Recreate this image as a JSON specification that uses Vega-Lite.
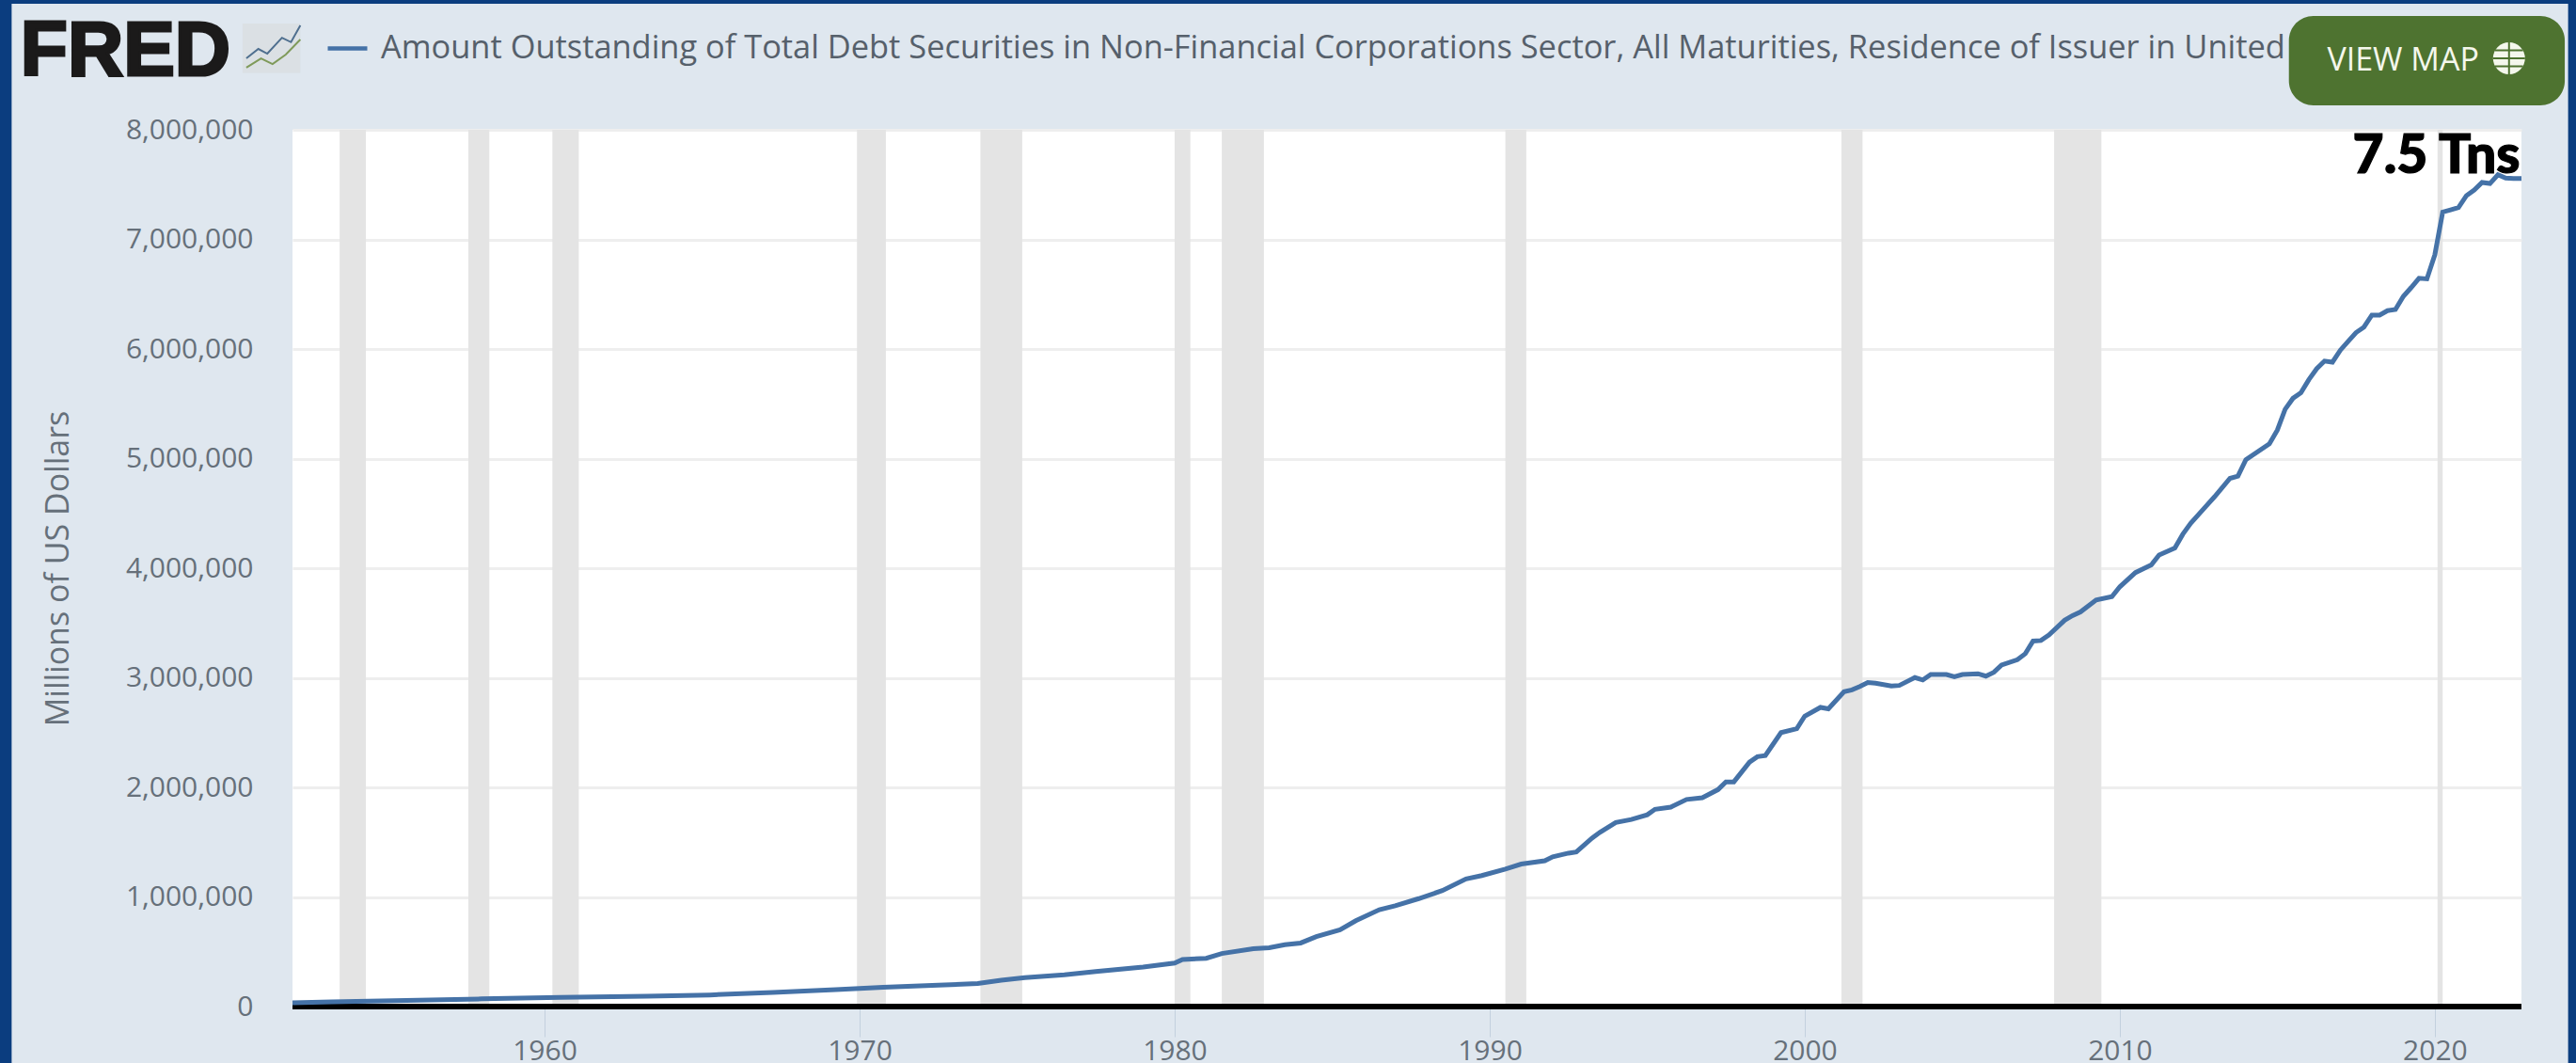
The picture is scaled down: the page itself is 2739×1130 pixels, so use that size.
{
"$schema":"https://vega.github.io/schema/vega-lite/v6.json",
"width":2370,"height":932,
"autosize":{"type":"none"},
"padding":{"left":311,"top":138,"right":58,"bottom":60},
"background":"#dfe7ef",
"config":{"view":{"fill":"#ffffff","stroke":null},"font":"Open Sans"},
"datasets":{
"debt":[
{"date":"1952-01-01","v":35000},{"date":"1953-04-01","v":43000},{"date":"1956-01-01","v":57000},{"date":"1958-01-01","v":70000},{"date":"1960-07-01","v":84000},{"date":"1963-04-01","v":94000},{"date":"1965-04-01","v":106000},{"date":"1967-04-01","v":129000},{"date":"1969-04-01","v":155000},{"date":"1970-10-01","v":177000},{"date":"1972-07-01","v":195000},{"date":"1973-10-01","v":210000},{"date":"1974-07-01","v":240000},{"date":"1975-04-01","v":263000},{"date":"1976-07-01","v":290000},{"date":"1977-07-01","v":320000},{"date":"1979-01-01","v":360000},{"date":"1980-01-01","v":397000},{"date":"1980-04-01","v":430000},{"date":"1981-01-01","v":440000},{"date":"1981-07-01","v":484000},{"date":"1982-07-01","v":528000},{"date":"1983-01-01","v":536000},{"date":"1983-07-01","v":565000},{"date":"1984-01-01","v":580000},{"date":"1984-07-01","v":638000},{"date":"1985-04-01","v":700000},{"date":"1985-10-01","v":783000},{"date":"1986-07-01","v":884000},{"date":"1987-01-01","v":920000},{"date":"1987-10-01","v":985000},{"date":"1988-07-01","v":1058000},{"date":"1989-04-01","v":1165000},{"date":"1989-10-01","v":1195000},{"date":"1990-07-01","v":1255000},{"date":"1991-01-01","v":1300000},{"date":"1991-10-01","v":1330000},{"date":"1992-01-01","v":1366000},{"date":"1992-07-01","v":1400000},{"date":"1992-10-01","v":1410000},{"date":"1993-04-01","v":1537000},{"date":"1993-07-01","v":1590000},{"date":"1994-01-01","v":1680000},{"date":"1994-07-01","v":1707000},{"date":"1995-01-01","v":1750000},{"date":"1995-04-01","v":1800000},{"date":"1995-10-01","v":1820000},{"date":"1996-04-01","v":1890000},{"date":"1996-10-01","v":1906000},{"date":"1997-04-01","v":1980000},{"date":"1997-07-01","v":2050000},{"date":"1997-10-01","v":2050000},{"date":"1998-04-01","v":2230000},{"date":"1998-07-01","v":2280000},{"date":"1998-10-01","v":2290000},{"date":"1999-04-01","v":2500000},{"date":"1999-10-01","v":2535000},{"date":"2000-01-01","v":2650000},{"date":"2000-07-01","v":2730000},{"date":"2000-10-01","v":2717000},{"date":"2001-04-01","v":2873000},{"date":"2001-07-01","v":2890000},{"date":"2001-10-01","v":2920000},{"date":"2002-01-01","v":2957000},{"date":"2002-04-01","v":2950000},{"date":"2002-10-01","v":2925000},{"date":"2003-01-01","v":2930000},{"date":"2003-07-01","v":3002000},{"date":"2003-10-01","v":2980000},{"date":"2004-01-01","v":3030000},{"date":"2004-07-01","v":3030000},{"date":"2004-10-01","v":3010000},{"date":"2005-01-01","v":3030000},{"date":"2005-07-01","v":3037000},{"date":"2005-10-01","v":3015000},{"date":"2006-01-01","v":3050000},{"date":"2006-04-01","v":3116000},{"date":"2006-10-01","v":3165000},{"date":"2007-01-01","v":3220000},{"date":"2007-04-01","v":3335000},{"date":"2007-07-01","v":3340000},{"date":"2007-10-01","v":3390000},{"date":"2008-04-01","v":3525000},{"date":"2008-07-01","v":3567000},{"date":"2008-10-01","v":3600000},{"date":"2009-04-01","v":3710000},{"date":"2009-10-01","v":3740000},{"date":"2010-01-01","v":3830000},{"date":"2010-07-01","v":3960000},{"date":"2011-01-01","v":4030000},{"date":"2011-04-01","v":4120000},{"date":"2011-10-01","v":4185000},{"date":"2012-01-01","v":4310000},{"date":"2012-04-01","v":4410000},{"date":"2012-10-01","v":4570000},{"date":"2013-01-01","v":4650000},{"date":"2013-07-01","v":4820000},{"date":"2013-10-01","v":4840000},{"date":"2014-01-01","v":4990000},{"date":"2014-10-01","v":5135000},{"date":"2015-01-01","v":5260000},{"date":"2015-04-01","v":5450000},{"date":"2015-07-01","v":5550000},{"date":"2015-10-01","v":5600000},{"date":"2016-01-01","v":5720000},{"date":"2016-04-01","v":5820000},{"date":"2016-07-01","v":5890000},{"date":"2016-10-01","v":5880000},{"date":"2017-01-01","v":5990000},{"date":"2017-04-01","v":6070000},{"date":"2017-07-01","v":6150000},{"date":"2017-10-01","v":6200000},{"date":"2018-01-01","v":6310000},{"date":"2018-04-01","v":6310000},{"date":"2018-07-01","v":6350000},{"date":"2018-10-01","v":6360000},{"date":"2019-01-01","v":6480000},{"date":"2019-04-01","v":6560000},{"date":"2019-07-01","v":6645000},{"date":"2019-10-01","v":6640000},{"date":"2020-01-01","v":6860000},{"date":"2020-04-01","v":7250000},{"date":"2020-07-01","v":7270000},{"date":"2020-10-01","v":7290000},{"date":"2021-01-01","v":7400000},{"date":"2021-04-01","v":7450000},{"date":"2021-07-01","v":7520000},{"date":"2021-10-01","v":7510000},{"date":"2022-01-01","v":7590000},{"date":"2022-04-01","v":7560000},{"date":"2022-07-01","v":7555000},{"date":"2022-10-01","v":7555000}
],
"recessions":[
{"start":"1953-07-01","end":"1954-05-01"},{"start":"1957-08-01","end":"1958-04-01"},{"start":"1960-04-01","end":"1961-02-01"},{"start":"1969-12-01","end":"1970-11-01"},{"start":"1973-11-01","end":"1975-03-01"},{"start":"1980-01-01","end":"1980-07-01"},{"start":"1981-07-01","end":"1982-11-01"},{"start":"1990-07-01","end":"1991-03-01"},{"start":"2001-03-01","end":"2001-11-01"},{"start":"2007-12-01","end":"2009-06-01"},{"start":"2020-02-01","end":"2020-04-01"}
],
"frame":[
{"start":"1930-01-01","end":"1943-02-01","low":-2000000,"high":11000000},
{"start":"2024-03-25","end":"2040-01-01","low":-2000000,"high":11000000},
{"start":"1930-01-01","end":"2040-01-01","low":9150000,"high":11000000}
],
"icon":[
{"name":"blue","date":"1950-07-15","v":8652000},{"name":"blue","date":"1950-12-01","v":8738000},{"name":"blue","date":"1951-03-15","v":8695000},{"name":"blue","date":"1951-09-01","v":8840000},{"name":"blue","date":"1951-12-15","v":8800000},{"name":"blue","date":"1952-04-01","v":8953000},
{"name":"green","date":"1950-07-15","v":8567000},{"name":"green","date":"1951-01-01","v":8652000},{"name":"green","date":"1951-05-15","v":8600000},{"name":"green","date":"1951-10-15","v":8687000},{"name":"green","date":"1952-04-01","v":8824000}
]
},
"encoding":{
"x":{"type":"temporal","scale":{"type":"utc","domain":["1952-01-01","2022-10-01"]}}
},
"layer":[
{"data":{"name":"debt"},
 "mark":{"type":"rule","opacity":0},
 "encoding":{
  "x":{"field":"date","type":"temporal","scale":{"type":"utc","domain":["1952-01-01","2022-10-01"]},
   "axis":{"title":null,"format":"%Y","tickCount":{"interval":"year","step":10},"grid":false,"domain":false,"tickColor":"#c3d0de","tickWidth":1,"tickSize":32,"labelFont":"Open Sans","labelFontSize":30,"labelColor":"#66707a","labelBaseline":"alphabetic","labelPadding":24,"labelOverlap":false,"labelFlush":false}},
  "y":{"field":"v","type":"quantitative","scale":{"domain":[0,8000000],"nice":false},
   "axis":{"title":"Millions of US Dollars","format":",d","values":[0,1000000,2000000,3000000,4000000,5000000,6000000,7000000,8000000],"grid":true,"gridColor":"#eeeeee","gridWidth":3,"domain":false,"ticks":false,"labelPadding":42,"labelFont":"Open Sans","labelFontSize":30,"labelColor":"#66707a","titleFont":"Open Sans","titleFontSize":34,"titleFontWeight":"normal","titleColor":"#66707a","titlePadding":54}}
 }},
{"data":{"name":"recessions"},
 "mark":{"type":"rect","color":"#e4e4e4"},
 "encoding":{"x":{"field":"start","type":"temporal"},"x2":{"field":"end"}}},
{"data":{"values":[{"v":0,"start":"1952-01-01","end":"2022-10-01"}]},
 "mark":{"type":"rule","color":"#000000","strokeWidth":6},
 "encoding":{"x":{"field":"start","type":"temporal"},"x2":{"field":"end"},"y":{"field":"v","type":"quantitative"}}},
{"data":{"name":"debt"},
 "mark":{"type":"line","strokeWidth":5,"interpolate":"linear"},
 "encoding":{
  "x":{"field":"date","type":"temporal"},
  "y":{"field":"v","type":"quantitative"},
  "color":{"datum":"Amount Outstanding of Total Debt Securities in Non-Financial Corporations Sector, All Maturities, Residence of Issuer in United",
   "scale":{"range":["#4572a7"]},
   "legend":{"title":null,"orient":"none","legendX":35,"legendY":-110,"padding":0,"symbolType":"stroke","symbolSize":1764,"symbolStrokeWidth":4.5,"labelFont":"Open Sans","labelFontSize":34.4,"labelColor":"#56606b","labelLimit":2300,"labelOffset":12}}
 }},
{"data":{"name":"frame"},
 "mark":{"type":"rect","color":"#0b3d7f"},
 "encoding":{"x":{"field":"start","type":"temporal"},"x2":{"field":"end"},"y":{"field":"low","type":"quantitative"},"y2":{"field":"high"}}},
{"data":{"values":[{"start":"2015-05-15","end":"2024-02-15","low":8223000,"high":9039000}]},
 "mark":{"type":"rect","color":"#4e7330","cornerRadius":26},
 "encoding":{"x":{"field":"start","type":"temporal"},"x2":{"field":"end"},"y":{"field":"low","type":"quantitative"},"y2":{"field":"high"}}},
{"data":{"values":[{"date":"2016-08-01","v":8541000,"label":"VIEW MAP"}]},
 "mark":{"type":"text","align":"left","baseline":"alphabetic","font":"Open Sans","fontSize":34,"color":"#f4f7ec"},
 "encoding":{"x":{"field":"date","type":"temporal"},"y":{"field":"v","type":"quantitative"},"text":{"field":"label"}}},
{"data":{"values":[{"date":"2022-05-10","v":8652000}]},
 "mark":{"type":"point","shape":"circle","filled":true,"size":1156,"color":"#f4f7ec","opacity":1},
 "encoding":{"x":{"field":"date","type":"temporal"},"y":{"field":"v","type":"quantitative"}}},
{"data":{"values":[{"date":"2022-05-10","v":8652000}]},
 "mark":{"type":"point","shape":"M-1,0H1M0,-1V1M-0.87,-0.5H0.87M-0.87,0.5H0.87","filled":false,"size":1156,"stroke":"#4e7330","strokeWidth":2,"opacity":1},
 "encoding":{"x":{"field":"date","type":"temporal"},"y":{"field":"v","type":"quantitative"}}},
{"data":{"values":[{"date":"2022-09-15","v":7605000,"label":"7.5 Tns"}]},
 "mark":{"type":"text","align":"right","baseline":"alphabetic","font":"Lato","fontWeight":900,"fontSize":57,"color":"#000000","stroke":"#000000","strokeWidth":1.2},
 "encoding":{"x":{"field":"date","type":"temporal"},"y":{"field":"v","type":"quantitative"},"text":{"field":"label"}}},
{"data":{"values":[{"date":"1943-05-15","v":8498000,"label":"FRED"}]},
 "mark":{"type":"text","align":"left","baseline":"alphabetic","font":"Liberation Sans","fontWeight":"bold","fontSize":82,"color":"#1b1a1a","stroke":"#1b1a1a","strokeWidth":3},
 "encoding":{"x":{"field":"date","type":"temporal"},"y":{"field":"v","type":"quantitative"},"text":{"field":"label"}}},
{"data":{"values":[{"start":"1950-06-01","end":"1952-04-01","low":8520000,"high":8970000}]},
 "mark":{"type":"rect","color":"#d9dde0","opacity":0.7},
 "encoding":{"x":{"field":"start","type":"temporal"},"x2":{"field":"end"},"y":{"field":"low","type":"quantitative"},"y2":{"field":"high"}}},
{"data":{"name":"icon"},
 "transform":[{"filter":"datum.name === 'blue'"}],
 "mark":{"type":"line","stroke":"#4f6f8f","strokeWidth":2},
 "encoding":{"x":{"field":"date","type":"temporal"},"y":{"field":"v","type":"quantitative"}}},
{"data":{"name":"icon"},
 "transform":[{"filter":"datum.name === 'green'"}],
 "mark":{"type":"line","stroke":"#7f9a5a","strokeWidth":2},
 "encoding":{"x":{"field":"date","type":"temporal"},"y":{"field":"v","type":"quantitative"}}}
]
}
